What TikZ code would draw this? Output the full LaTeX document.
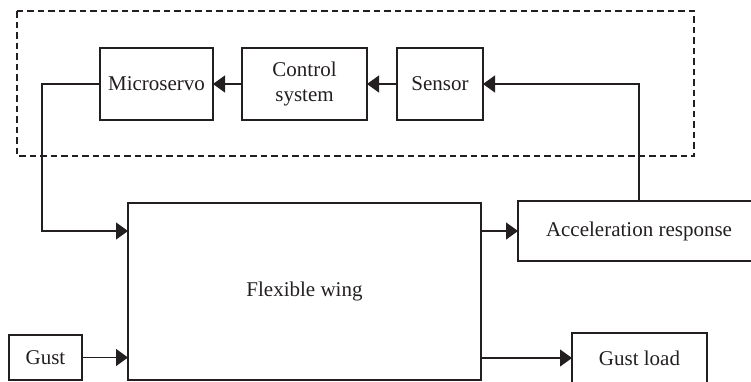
\documentclass[tikz,border=0pt]{standalone}
\usepackage{fontspec}
\setmainfont{Liberation Serif}
\usetikzlibrary{arrows.meta}
\definecolor{ink}{HTML}{231F20}
\begin{document}
\begin{tikzpicture}[x=1pt,y=-1pt,
  box/.style={draw=ink, text=ink, line width=1.2pt, inner sep=0pt, outer sep=0pt, align=center, font=\fontsize{21}{25}\selectfont},
  conn/.style={draw=ink, line width=1.2pt, -{Triangle[length=12pt,width=17pt]}}]
\path[use as bounding box, clip] (0,0) rectangle (751,381);
\draw[draw=ink, line width=1.1pt, dash pattern=on 6.5pt off 4pt] (17,11) rectangle (694,156);
\node[box, minimum width=113pt, minimum height=72pt] (micro) at (156.5,84) {Microservo};
\node[box, minimum width=125pt, minimum height=72pt] (ctrl) at (304.5,84) {Control\\system};
\node[box, minimum width=86pt, minimum height=72pt] (sensor) at (440,84) {Sensor};
\node[box, minimum width=353pt, minimum height=177pt] (wing) at (304.5,291.5) {Flexible wing};
\node[box, minimum width=73pt, minimum height=45pt] (gust) at (45.5,357.5) {Gust};
\node[box, minimum width=242pt, minimum height=60pt] (accel) at (639,231) {Acceleration response};
\node[box, minimum width=135pt, minimum height=50pt] (gload) at (639.5,358) {Gust load};
\draw[conn] (ctrl.west) -- (micro.east);
\draw[conn] (sensor.west) -- (ctrl.east);
\draw[conn] (accel.north) |- (sensor.east);
\draw[conn] (micro.west) -- ++(-58,0) |- (wing.west |- accel);
\draw[conn] (wing.east |- accel) -- (accel.west);
\draw[conn] (gust.east) -- (wing.west |- gust);
\draw[conn] (wing.east |- gload) -- (gload.west);
\end{tikzpicture}
\end{document}
